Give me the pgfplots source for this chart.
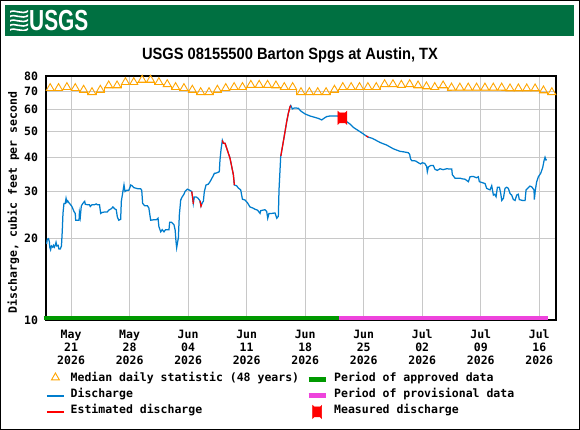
\documentclass[border=0pt]{standalone}
\usepackage{fontspec}
\setmainfont{Liberation Sans}
\newfontfamily\monofont{DejaVu Sans Mono}
\usepackage{pgfplots}
\pgfplotsset{compat=1.18}
\usepackage{graphicx}
\definecolor{usgsgreen}{RGB}{0,112,65}
\definecolor{qblue}{RGB}{0,125,205}
\definecolor{medorange}{RGB}{255,165,0}
\definecolor{apprgreen}{RGB}{0,153,0}
\definecolor{provpink}{RGB}{238,68,220}
\definecolor{gridgray}{RGB}{200,200,200}
\newcommand\monob{\monofont\bfseries\fontsize{11.5}{13}\selectfont}
\pgfdeclareplotmark{measured}{%
  \pgfpathmoveto{\pgfqpoint{-4.5pt}{-6.5pt}}%
  \pgfpathlineto{\pgfqpoint{-3pt}{-5pt}}%
  \pgfpathlineto{\pgfqpoint{3pt}{-5pt}}%
  \pgfpathlineto{\pgfqpoint{4.5pt}{-6.5pt}}%
  \pgfpathlineto{\pgfqpoint{4.5pt}{6.5pt}}%
  \pgfpathlineto{\pgfqpoint{3pt}{5pt}}%
  \pgfpathlineto{\pgfqpoint{-3pt}{5pt}}%
  \pgfpathlineto{\pgfqpoint{-4.5pt}{6.5pt}}%
  \pgfpathclose
  \pgfusepathqfillstroke
}
\begin{document}
\begin{tikzpicture}[x=1pt,y=1pt]
% frame and header
\fill[white] (0,0) rectangle (580,430);
\draw[black, line width=1pt] (0.5,0.5) rectangle (579.5,429.5);
\fill[usgsgreen] (5,394) rectangle (574,425);
\begin{scope}
\clip (10,399) rectangle (28,420);
\foreach \i in {0,...,4} {
  \draw[white, line width=1.6pt] (9,399.5+4.5*\i) .. controls (15,404+4.5*\i) and (21,396+4.5*\i) .. (29,401.5+4.5*\i);
}
\end{scope}
\node[anchor=base west, inner sep=0, text=white, font=\bfseries\fontsize{29}{29}\selectfont] at (29,399) {\scalebox{0.72}[1]{USGS}};
\node[anchor=base, inner sep=0, font=\bfseries\fontsize{16.3}{18}\selectfont] at (290,370) {\scalebox{0.9}[1]{USGS 08155500 Barton Spgs at Austin, TX}};
\begin{axis}[
  at={(46pt,110pt)}, anchor=south west,
  scale only axis, width=510pt, height=244pt,
  xmin=0, xmax=61, ymin=10, ymax=80, ymode=log,
  clip=false,
  axis line style={line width=1.1pt},
  xtick={3,10,17,24,31,38,45,52,59},
  xticklabels={{May\\21\\2026},{May\\28\\2026},{Jun\\04\\2026},{Jun\\11\\2026},{Jun\\18\\2026},{Jun\\25\\2026},{Jul\\02\\2026},{Jul\\09\\2026},{Jul\\16\\2026}},
  ytick={10,20,30,40,50,60,70,80},
  yticklabels={10,20,30,40,50,60,70,80},
  minor ytick={},
  major tick length=0pt,
  xmajorgrids, ymajorgrids,
  grid style={gridgray, line width=0.9pt},
  /pgf/number format/assume math mode=true,
  xticklabel style={font=\monob, align=center, yshift=-6.2pt},
  yticklabel style={font=\monob, xshift=-4.5pt},
  ylabel={Discharge, cubic feet per second},
  ylabel style={font=\monob, at={(axis description cs:-0.064,0.4816)}, anchor=center},
  legend columns=2,
  legend cell align=left,
  legend style={at={(axis description cs:0,-0.212)}, anchor=north west, draw=none, fill=none, inner sep=0pt, font=\monob,
    nodes={inner xsep=6pt, inner ysep=0pt, text height=10pt, text depth=6pt},
    /tikz/every even column/.append style={column sep=1pt}},
]
% median step line
\addplot[const plot, color=medorange, line width=1pt, forget plot] table[x=d,y=v] {
d v
0 70.7
1 70.7
2 71.3
3 70.7
4 69.7
5 68.3
6 69.7
7 72.3
8 72.3
9 74.4
10 74.4
11 75.9
12 75.9
13 74.4
14 73.1
15 71.3
16 70.7
17 69.7
18 68.3
19 68.3
20 69.7
21 70.7
22 71.3
23 71.3
24 72.7
25 72.7
26 72.7
27 72.3
28 71.3
29 71.3
30 68.3
31 68.3
32 68.3
33 68.3
34 69.7
35 71.3
36 71.3
37 71.3
38 71.3
39 71.3
40 73.1
41 73.1
42 72.7
43 73.1
44 72.3
45 71.7
46 71.3
47 72.3
48 71.0
49 71.0
50 71.0
51 71.0
52 71.0
53 71.0
54 71.0
55 70.5
56 70.5
57 70.5
58 70.5
59 69.3
60 68.3
61 68.3
};
% median triangles
\addplot[only marks, mark=triangle, mark size=4.6pt, color=medorange, mark options={yshift=2.3pt, line width=0.9pt, fill=none}] table[x=d,y=v] {
d v
0.5 70.7
1.5 70.7
2.5 71.3
3.5 70.7
4.5 69.7
5.5 68.3
6.5 69.7
7.5 72.3
8.5 72.3
9.5 74.4
10.5 74.4
11.5 75.9
12.5 75.9
13.5 74.4
14.5 73.1
15.5 71.3
16.5 70.7
17.5 69.7
18.5 68.3
19.5 68.3
20.5 69.7
21.5 70.7
22.5 71.3
23.5 71.3
24.5 72.7
25.5 72.7
26.5 72.7
27.5 72.3
28.5 71.3
29.5 71.3
30.5 68.3
31.5 68.3
32.5 68.3
33.5 68.3
34.5 69.7
35.5 71.3
36.5 71.3
37.5 71.3
38.5 71.3
39.5 71.3
40.5 73.1
41.5 73.1
42.5 72.7
43.5 73.1
44.5 72.3
45.5 71.7
46.5 71.3
47.5 72.3
48.5 71.0
49.5 71.0
50.5 71.0
51.5 71.0
52.5 71.0
53.5 71.0
54.5 71.0
55.5 70.5
56.5 70.5
57.5 70.5
58.5 70.5
59.5 69.3
60.5 68.3
};
\addlegendentry{Median daily statistic (48 years)}
% approved period
\addplot[color=apprgreen, line width=4.5pt, legend image code/.code={\draw[apprgreen, line width=5pt] (0cm,0cm) -- (0.6cm,0cm);}] coordinates {(-0.24,10.17) (35.1,10.17)};
\addlegendentry{Period of approved data}
% discharge
\addplot[color=qblue, line width=1.25pt, legend image code/.code={\draw[qblue, line width=1.4pt] (0cm,0cm) -- (0.6cm,0cm);}] table[x=d,y=q] {
d q
0.00 19.2
0.08 19.2
0.15 19.9
0.30 20.0
0.40 19.5
0.45 18.6
0.55 18.2
0.65 18.8
0.80 18.6
0.90 18.9
1.00 18.6
1.10 18.9
1.20 19.4
1.30 18.8
1.45 18.9
1.55 18.3
1.70 18.3
1.85 18.8
1.95 21.5
2.03 24.8
2.15 27.0
2.30 27.0
2.40 28.2
2.50 27.3
2.60 27.6
2.80 27.0
2.95 26.7
3.10 26.3
3.35 25.2
3.50 24.8
3.55 23.4
3.95 23.4
4.00 25.0
4.10 24.0
4.22 26.4
4.40 27.0
4.63 27.5
4.70 26.8
5.00 26.7
5.20 26.7
5.30 26.3
5.50 26.7
5.80 26.7
6.00 26.9
6.14 26.7
6.40 26.7
6.54 24.8
6.70 25.0
7.00 25.1
7.33 25.1
7.50 25.5
7.80 25.8
8.00 26.2
8.21 25.8
8.40 25.6
8.53 24.1
8.70 23.4
8.93 23.6
9.01 27.5
9.20 29.9
9.33 31.6
9.45 29.9
9.65 30.2
9.90 30.2
10.05 31.0
10.13 31.6
10.30 31.4
10.50 30.9
11.00 30.6
11.32 30.6
11.45 30.2
11.56 27.0
11.80 26.5
12.12 26.5
12.30 26.0
12.52 23.4
12.90 23.5
13.20 23.5
13.40 23.8
13.50 22.2
13.72 21.2
13.90 21.6
14.11 21.2
14.30 21.6
14.71 21.6
14.79 23.0
15.00 23.0
15.31 22.5
15.45 21.5
15.55 19.5
15.63 18.5
15.75 19.5
15.83 20.1
15.95 24.5
16.11 27.8
16.30 28.6
16.50 29.2
16.63 29.9
16.90 30.5
17.20 30.2
17.43 29.9
17.55 28.2
17.62 27.0
17.74 28.5
18.00 28.5
18.20 28.2
18.42 27.6
18.54 26.4
18.70 27.2
18.82 27.5
18.94 29.9
19.14 31.6
19.40 31.8
19.62 32.5
19.94 33.9
20.14 34.9
20.40 35.0
20.73 35.4
20.81 39.1
20.93 42.6
21.09 46.2
21.20 45.1
21.41 45.1
21.61 43.3
21.81 41.4
22.01 39.7
22.21 37.0
22.41 34.5
22.53 31.6
22.80 31.4
23.00 30.8
23.29 30.3
23.49 28.0
23.80 27.8
24.08 27.2
24.40 26.2
24.70 26.0
25.00 25.7
25.30 25.5
25.60 24.8
25.68 25.4
26.20 25.6
26.40 25.2
26.52 23.8
26.67 24.8
27.00 24.8
27.39 24.9
27.60 23.8
27.79 24.2
27.87 30.3
28.07 40.2
28.39 45.8
28.59 49.8
28.79 54.2
28.99 58.3
29.19 61.6
29.27 62.2
29.47 60.4
29.70 60.9
30.18 60.8
30.46 59.4
30.98 57.9
31.58 56.9
32.18 56.2
32.60 55.7
32.98 55.0
33.25 55.8
33.57 56.6
33.97 56.9
34.85 56.9
35.30 56.5
35.77 56.5
35.97 54.2
36.40 53.0
36.77 51.6
37.37 50.2
37.96 48.8
38.30 48.0
38.55 47.5
38.96 47.1
39.50 46.2
39.95 45.4
40.75 44.4
41.55 43.0
42.34 42.1
42.80 41.9
43.34 41.6
43.50 41.0
43.60 39.5
43.74 38.9
44.20 38.8
44.54 38.2
44.80 37.8
45.00 38.2
45.30 38.0
45.53 37.0
45.61 35.4
45.73 36.8
46.00 37.3
46.33 37.3
46.53 36.1
46.80 35.8
47.13 36.3
47.50 36.0
47.93 36.3
48.30 36.2
48.53 36.2
48.60 34.5
48.92 33.5
49.50 33.5
49.80 33.3
50.12 33.2
50.52 32.5
50.72 33.9
51.10 34.0
51.50 33.6
51.71 33.9
51.83 32.5
52.10 32.3
52.51 32.0
52.71 30.7
53.11 30.3
53.31 31.4
53.51 29.0
53.67 29.2
53.83 28.6
53.99 31.0
54.23 31.0
54.39 29.4
54.51 27.7
54.71 28.2
54.90 30.7
55.10 31.0
55.30 30.7
55.50 29.4
55.70 29.0
55.90 27.9
56.10 27.7
56.30 29.0
56.49 29.2
56.61 27.9
57.00 27.7
57.30 27.7
57.42 30.3
57.65 30.8
57.89 31.3
58.10 31.1
58.37 30.3
58.41 27.9
58.53 30.3
58.69 32.5
58.89 33.9
59.17 34.9
59.41 36.7
59.57 38.9
59.69 40.0
59.80 39.1
59.89 39.3
};
\addlegendentry{Discharge}
% provisional period
\addplot[color=provpink, line width=4.5pt, legend image code/.code={\draw[provpink, line width=5pt] (0cm,0cm) -- (0.6cm,0cm);}] coordinates {(35.1,10.17) (60.0,10.17)};
\addlegendentry{Period of provisional data}
% estimated discharge
\addplot[color=red, line width=1.25pt, unbounded coords=jump, legend image code/.code={\draw[red, line width=1.4pt] (0cm,0cm) -- (0.6cm,0cm);}] table[x=d,y=q] {
d q
17.43 29.9
17.55 28.2
17.62 27.0
17.66 27.0
nan nan
18.42 27.6
18.54 26.4
18.62 26.8
nan nan
21.09 46.2
21.20 45.1
21.41 45.1
21.61 43.3
21.81 41.4
22.01 39.7
22.21 37.0
22.41 34.5
22.53 31.6
nan nan
28.09 40.5
28.39 45.8
28.59 49.8
28.79 54.2
28.99 58.3
29.19 61.6
29.27 62.2
nan nan
38.30 48.0
38.55 47.5
};
\addlegendentry{Estimated discharge}
% measured discharge
\addplot[only marks, mark=measured, color=red, mark options={draw=red, fill=red, line width=0.5pt}] coordinates {(35.45,56.0)};
\addlegendentry{Measured discharge}
\end{axis}
\end{tikzpicture}
\end{document}
